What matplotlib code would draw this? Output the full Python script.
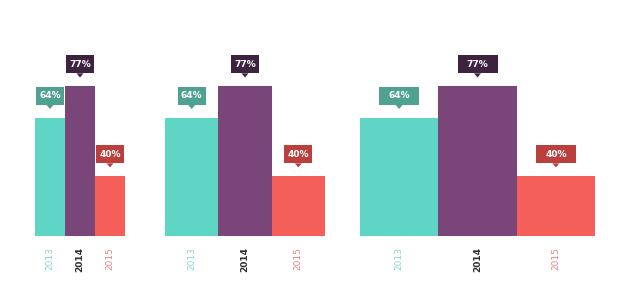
import matplotlib
matplotlib.use("Agg")
import matplotlib.pyplot as plt
from matplotlib.patches import Rectangle, Polygon
from matplotlib.transforms import ScaledTranslation

years = ["2013", "2014", "2015"]
values = [64, 77, 40]
labels = ["64%", "77%", "40%"]

bar_colors = ["#5ED5C5", "#7A4578", "#F55F5A"]
box_colors = ["#4FA292", "#3E2341", "#B9403D"]
tick_colors = ["#86D9CD", "#2E2E2E", "#E58580"]

fig = plt.figure(figsize=(6.4, 2.88), dpi=100)
W, H = 640, 288

# panels in pixel coords: (left, right), box width px
panels = [((35, 125), 28), ((165, 325), 28), ((360, 595), 40)]
base_y = 236
top_y = 40
ppu = 2.432          # pixels per value unit
ybot = 15.3

for (l, r), bw in panels:
    ax = fig.add_axes([l / W, (H - base_y) / H, (r - l) / W, (base_y - top_y) / H])
    x = list(range(len(values)))
    ax.bar(x, values, width=1.0, color=bar_colors, align="center")
    ax.set_xlim(-0.5, len(values) - 0.5)
    ytop = ybot + (base_y - top_y) / ppu
    ax.set_ylim(ybot, ytop)
    for s in ax.spines.values():
        s.set_visible(False)
    ax.set_yticks([])
    ax.set_xticks(x)
    ax.set_xticklabels(years, rotation=90, fontsize=6.5)
    for t, c in zip(ax.get_xticklabels(), tick_colors):
        t.set_color(c)
    ax.get_xticklabels()[1].set_fontweight("bold")
    ax.tick_params(axis="x", length=0, pad=8)

    bh = 18.5
    for xi, v, lab, bc in zip(x, values, labels, box_colors):
        tr = fig.dpi_scale_trans + ScaledTranslation(xi, v, ax.transData)
        off = 12.5 / 100
        w = bw / 100
        h = bh / 100
        ax.add_patch(Rectangle((-w / 2, off), w, h, transform=tr,
                               facecolor=bc, edgecolor="none", clip_on=False))
        ax.add_patch(Polygon([(-0.035, off + 0.001), (0.035, off + 0.001), (0, off - 0.04)],
                             closed=True, transform=tr, facecolor=bc,
                             edgecolor="none", clip_on=False))
        ax.text(0, off + h / 2, lab, transform=tr, ha="center", va="center",
                color="white", fontsize=6.5, fontweight="bold", clip_on=False)

fig.savefig("out.png", dpi=100, facecolor="white")
